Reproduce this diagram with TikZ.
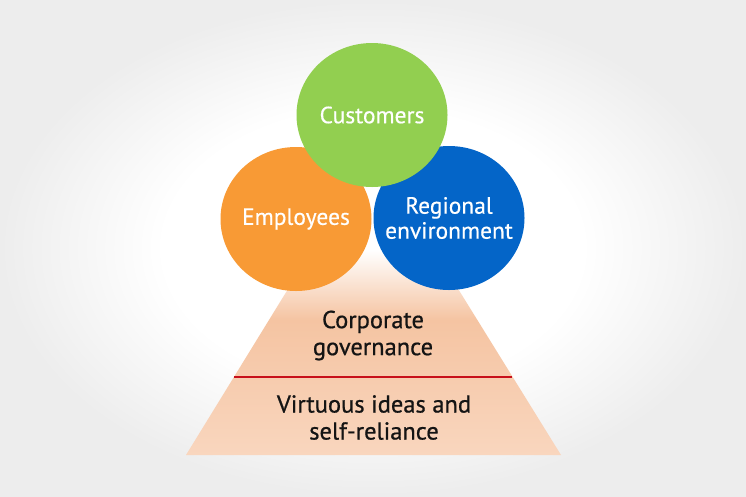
\documentclass[tikz,border=0pt]{standalone}
\usepackage{fontspec}
\setmainfont{PT Sans}
\newfontfamily\ballfont[FakeBold=0.4]{PT Sans}
\newfontfamily\pyrfont[FakeBold=0.7]{PT Sans}
\usetikzlibrary{shapes.geometric}

\definecolor{custgreen}{HTML}{92CF50}
\definecolor{emplorange}{HTML}{F89A35}
\definecolor{regblue}{HTML}{0465C8}
\definecolor{pyrmid}{HTML}{F5C4A2}
\definecolor{pyrlow}{HTML}{F9D6BE}
\definecolor{bgedge}{HTML}{EDEDED}
\definecolor{govred}{HTML}{C8101A}
\definecolor{inktext}{HTML}{141414}

\pgfdeclareverticalshading{pyrfade}{100bp}{color(0bp)=(pyrlow); color(25bp)=(pyrlow); color(58bp)=(pyrmid); color(75bp)=(white); color(100bp)=(white)}
\pgfdeclareradialshading{bgglow}{\pgfpoint{0bp}{0bp}}{color(0bp)=(white); color(14bp)=(white); color(25bp)=(bgedge); color(50bp)=(bgedge)}

\begin{document}
\begin{tikzpicture}[x=1pt,y=1pt,
  ball/.style={ellipse, inner sep=0pt, minimum width=151pt, minimum height=144pt},
  balltext/.style={text=white, align=center, font=\ballfont\fontsize{23.5}{25}\selectfont},
  pyrtext/.style={text=inktext, align=center, font=\pyrfont\fontsize{24.5}{27}\selectfont}]

\useasboundingbox (0,0) rectangle (746,-496);
\shade [shading=bgglow] (0,0) rectangle (746,-496);

% pyramid base
\coordinate (p1) at (186,-455);
\coordinate (p2) at (561,-455);
\coordinate (p3) at (434,-250);
\coordinate (p4) at (312,-250);
\shade [shading=pyrfade] (p1) -- (p2) -- (p3) -- (p4) -- cycle;

\coordinate (r1) at (234,-377);
\coordinate (r2) at (512,-377);
\draw [govred, line width=1.5pt] (r1) -- (r2);

\node [pyrtext] (gov) at (373,-335.5) {Corporate\\governance};
\node [pyrtext] (virt) at (374,-417.5) {Virtuous ideas and\\self-reliance};

% the three circles
\node [ball, fill=emplorange, label={[balltext]center:Employees}] (empl) at (296,-219) {};
\node [ball, fill=regblue, label={[balltext]center:Regional\\environment}] (reg) at (449,-218) {};
\node [ball, fill=custgreen, label={[balltext]center:Customers}] (cust) at (372,-115) {};
\end{tikzpicture}
\end{document}
